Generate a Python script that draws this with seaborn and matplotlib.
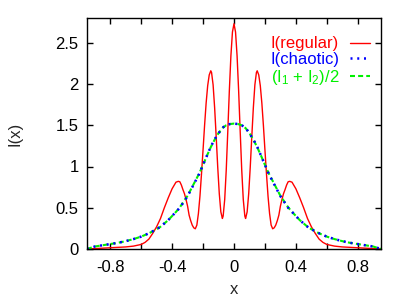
import numpy as np
import pandas as pd
import seaborn as sns
import matplotlib
matplotlib.use("Agg")
import matplotlib.pyplot as plt

# ---- data ----
x_reg = [-0.95, -0.90, -0.85, -0.80, -0.75, -0.70, -0.65, -0.60, -0.575, -0.55,
         -0.525, -0.50, -0.475, -0.45, -0.425, -0.40, -0.375, -0.36, -0.35, -0.34,
         -0.33, -0.32, -0.31, -0.30, -0.29, -0.28, -0.27, -0.26, -0.25, -0.24,
         -0.23, -0.22, -0.21, -0.20, -0.19, -0.18, -0.17, -0.16, -0.15, -0.145,
         -0.135, -0.125, -0.115, -0.105, -0.095, -0.085, -0.075, -0.07, -0.06, -0.05,
         -0.04, -0.03, -0.02, -0.01, 0.0,
         0.01, 0.02, 0.03, 0.04, 0.05, 0.06, 0.07, 0.075, 0.085, 0.095,
         0.105, 0.115, 0.125, 0.135, 0.145, 0.15, 0.16, 0.17, 0.18, 0.19,
         0.20, 0.21, 0.22, 0.23, 0.24, 0.25, 0.26, 0.27, 0.28, 0.29,
         0.30, 0.31, 0.32, 0.33, 0.34, 0.35, 0.36, 0.375, 0.40, 0.425,
         0.45, 0.475, 0.50, 0.525, 0.55, 0.575, 0.60, 0.65, 0.70, 0.75,
         0.80, 0.85, 0.90, 0.95]
i_regular = [0.0, 0.005, 0.01, 0.015, 0.02, 0.025, 0.035, 0.055, 0.08, 0.12,
             0.19, 0.27, 0.37, 0.50, 0.62, 0.73, 0.81, 0.82, 0.815, 0.775,
             0.72, 0.67, 0.60, 0.52, 0.41, 0.344, 0.29, 0.257, 0.245, 0.29,
             0.43, 0.64, 0.91, 1.20, 1.50, 1.77, 1.98, 2.11, 2.16, 2.14,
             1.99, 1.71, 1.36, 0.99, 0.67, 0.45, 0.37, 0.40, 0.60, 0.96,
             1.43, 1.92, 2.34, 2.63, 2.73,
             2.63, 2.34, 1.92, 1.43, 0.96, 0.60, 0.40, 0.37, 0.45, 0.67,
             0.99, 1.36, 1.71, 1.99, 2.14, 2.16, 2.11, 1.98, 1.77, 1.50,
             1.20, 0.91, 0.64, 0.43, 0.29, 0.245, 0.257, 0.29, 0.344, 0.41,
             0.52, 0.60, 0.67, 0.72, 0.775, 0.815, 0.82, 0.81, 0.73, 0.62,
             0.50, 0.37, 0.27, 0.19, 0.12, 0.08, 0.055, 0.035, 0.025, 0.02,
             0.015, 0.01, 0.005, 0.0]

x_avg = [-0.95, -0.90, -0.85, -0.80, -0.75, -0.70, -0.65, -0.60, -0.55, -0.525,
         -0.50, -0.475, -0.45, -0.425, -0.40, -0.375, -0.35, -0.325, -0.30, -0.275,
         -0.25, -0.225, -0.20, -0.175, -0.15, -0.125, -0.10, -0.075, -0.05, -0.025,
         0.0, 0.025, 0.05, 0.075, 0.10, 0.125, 0.15, 0.175, 0.20, 0.225,
         0.25, 0.275, 0.30, 0.325, 0.35, 0.375, 0.40, 0.425, 0.45, 0.475,
         0.50, 0.525, 0.55, 0.60, 0.65, 0.70, 0.75, 0.80, 0.85, 0.90, 0.95]
i_chaotic = [0.0, 0.03, 0.045, 0.06, 0.075, 0.095, 0.12, 0.15, 0.19, 0.215,
             0.24, 0.27, 0.31, 0.35, 0.40, 0.45, 0.50, 0.57, 0.64, 0.73,
             0.82, 0.91, 1.02, 1.13, 1.24, 1.33, 1.40, 1.47, 1.50, 1.515,
             1.52, 1.515, 1.50, 1.47, 1.40, 1.33, 1.24, 1.13, 1.02, 0.91,
             0.82, 0.73, 0.64, 0.57, 0.50, 0.45, 0.40, 0.35, 0.31, 0.27,
             0.24, 0.215, 0.19, 0.15, 0.12, 0.095, 0.075, 0.06, 0.045, 0.03, 0.0]
i_mean = [0.0, 0.03, 0.045, 0.06, 0.075, 0.095, 0.12, 0.15, 0.19, 0.215,
          0.24, 0.27, 0.31, 0.35, 0.40, 0.45, 0.505, 0.575, 0.645, 0.735,
          0.825, 0.915, 1.02, 1.13, 1.235, 1.325, 1.405, 1.465, 1.50, 1.515,
          1.52, 1.515, 1.50, 1.465, 1.405, 1.325, 1.235, 1.13, 1.02, 0.915,
          0.825, 0.735, 0.645, 0.575, 0.505, 0.45, 0.40, 0.35, 0.31, 0.27,
          0.24, 0.215, 0.19, 0.15, 0.12, 0.095, 0.075, 0.06, 0.045, 0.03, 0.0]

labels = ["I(regular)", "I(chaotic)", r"(I$_1$ + I$_2$)/2"]
x_ticks = [-0.8, -0.6, -0.4, -0.2, 0.0, 0.2, 0.4, 0.6, 0.8]
x_ticklabels = ["-0.8", "", "-0.4", "", "0", "", "0.4", "", "0.8"]
y_ticks = [0, 0.5, 1.0, 1.5, 2.0, 2.5]
y_ticklabels = ["0", "0.5", "1", "1.5", "2", "2.5"]

# ---- style ----
sns.set_theme(style="white")
plt.rcParams["font.family"] = ["Liberation Sans", "DejaVu Sans"]
plt.rcParams["mathtext.fontset"] = "custom"
plt.rcParams["mathtext.rm"] = "Liberation Sans"
plt.rcParams["mathtext.it"] = "Liberation Sans"

fs = 12
fig = plt.figure(figsize=(4.09, 3.0), dpi=100)
ax = fig.add_axes([0.2127, 0.17, 0.7188, 0.77])

red = "#ff0000"
blue = "#0000ff"
green = "#00f000"

sns.lineplot(x=x_reg, y=i_regular, ax=ax, color=red, lw=1.0, label=labels[0],
             sort=False, estimator=None, zorder=2)
sns.lineplot(x=x_avg, y=i_chaotic, ax=ax, color=blue, lw=1.8,
             linestyle=(0, (0.8, 1.9)), label=labels[1], sort=False,
             estimator=None, zorder=4)
sns.lineplot(x=x_avg, y=i_mean, ax=ax, color=green, lw=1.5,
             linestyle=(0, (2.4, 1.5)), label=labels[2], sort=False,
             estimator=None, zorder=3)

ax.set_xlim(-0.95, 0.95)
ax.set_ylim(0, 2.8)
ax.set_xticks(x_ticks)
ax.set_xticklabels(x_ticklabels, fontsize=fs)
ax.set_yticks(y_ticks)
ax.set_yticklabels(y_ticklabels, fontsize=fs)
ax.tick_params(direction="in", length=4.5, width=1, top=True, right=True,
               bottom=True, left=True, colors="black", pad=6)
ax.tick_params(axis="x", pad=8)
for s in ax.spines.values():
    s.set_visible(True)
    s.set_color("black")
    s.set_linewidth(1.0)
    s.set_zorder(5)
ax.set_xlabel("x", fontsize=fs, labelpad=5)
ax.set_ylabel("I(x)", fontsize=fs, labelpad=24)

leg = ax.legend(loc="upper right", bbox_to_anchor=(0.985, 0.949),
                frameon=False, markerfirst=False,
                fontsize=fs, handlelength=1.2, handletextpad=0.65,
                labelspacing=0.05, borderaxespad=0.0, labelcolor="linecolor")

fig.savefig("out.png", dpi=100)
